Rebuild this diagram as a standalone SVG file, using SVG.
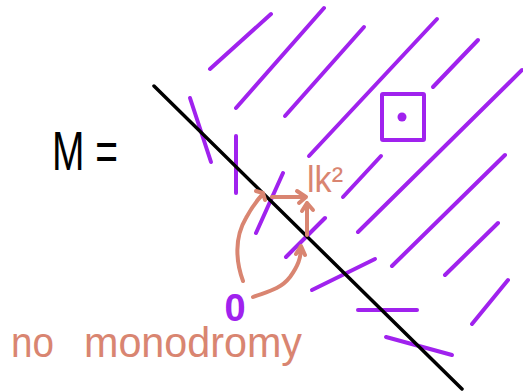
<svg xmlns="http://www.w3.org/2000/svg" width="523" height="391" viewBox="0 0 523 391">
<style>
.p{stroke:#A022EE;stroke-width:4;stroke-linecap:round;fill:none}
.s{stroke:#D98571;stroke-width:4;stroke-linecap:round;stroke-linejoin:round;fill:none}
.k{stroke:#000;stroke-width:3.5;stroke-linecap:round;fill:none}
.t{font-family:"Liberation Sans","DejaVu Sans",sans-serif}
</style>
<rect width="523" height="391" fill="#fff"/>
<g id="hatching">
<line class="p" x1="210" y1="69" x2="271" y2="14"/>
<line class="p" x1="236" y1="108" x2="324" y2="8"/>
<line class="p" x1="285" y1="116" x2="364" y2="27"/>
<line class="p" x1="309" y1="156" x2="437" y2="19"/>
<line class="p" x1="433" y1="87" x2="478" y2="40"/>
<line class="p" x1="358" y1="232" x2="522" y2="70"/>
<line class="p" x1="343" y1="197" x2="381" y2="156"/>
<line class="p" x1="392" y1="266" x2="505" y2="155"/>
<line class="p" x1="445" y1="275" x2="498" y2="223"/>
<line class="p" x1="472" y1="324" x2="508" y2="280"/>
<line class="p" x1="312" y1="290" x2="375" y2="259"/>
<line class="p" x1="358" y1="310" x2="417" y2="310"/>
<line class="p" x1="386" y1="337" x2="452" y2="355"/>
<line class="p" x1="286" y1="257" x2="325" y2="218"/>
<line class="p" x1="283" y1="173" x2="256" y2="233"/>
<line class="p" x1="190" y1="98" x2="211" y2="162"/>
<line class="p" x1="236" y1="136" x2="236" y2="193"/>
</g>
<g id="wall">
<line class="k" x1="154" y1="86" x2="462" y2="389"/>
</g>
<g id="box">
<rect class="p" x="382" y="94" width="42" height="46" rx="1"/>
<circle cx="402" cy="117" r="4.5" fill="#A022EE"/>
</g>
<g id="label-M">
<text class="t" x="52" y="170" font-size="56" textLength="66" lengthAdjust="spacingAndGlyphs" fill="#000">M =</text>
</g>
<g id="label-0">
<text class="t" x="235" y="321" font-size="38" text-anchor="middle" font-weight="bold" fill="#A022EE">0</text>
</g>
<g id="label-k2">
<text class="t" x="307" y="192" font-size="36" textLength="36" lengthAdjust="spacingAndGlyphs" fill="#D98571">lk²</text>
</g>
<g id="connectors">
<path class="s" d="M272,197 L306,197 M297,191 L306,197 L299,203"/>
<path class="s" d="M307,235 L307,203 M302,211 L307,203 L313,210"/>
<path class="s" d="M243,281 C236,262 234,238 246,218 C252,207 258,199 263,194 M256,191 L263,193 L265,200"/>
<path class="s" d="M253,297 C266,292 280,290 290,277 C298,266 301,258 301,247 M296,254 L301,246 L305,255"/>
</g>
<g id="caption">
<text class="t" y="357" font-size="42" fill="#D98571"><tspan x="11" textLength="43" lengthAdjust="spacingAndGlyphs">no</tspan><tspan x="84" textLength="218" lengthAdjust="spacingAndGlyphs">monodromy</tspan></text>
</g>
</svg>
